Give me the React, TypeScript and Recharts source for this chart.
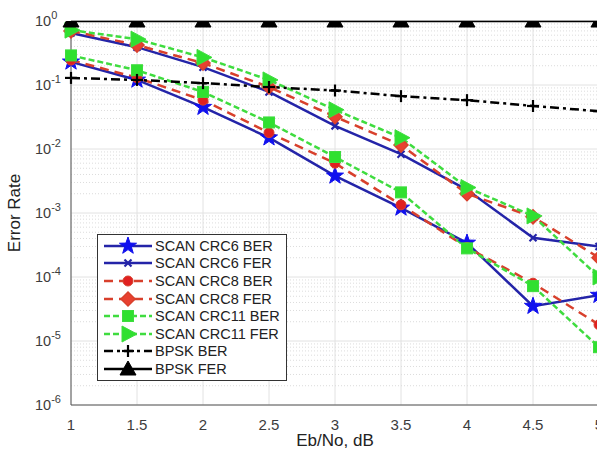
import React from "react";
import { LineChart, Line, XAxis, YAxis, CartesianGrid, ReferenceLine } from "recharts";

const ebno = [1, 1.5, 2, 2.5, 3, 3.5, 4, 4.5, 5];
const crc6Ber = [0.23, 0.12, 0.045, 0.015, 0.0038, 0.0012, 0.00034, 0.000035, 0.000052];
const crc6Fer = [0.65, 0.39, 0.19, 0.078, 0.023, 0.0083, 0.0023, 0.00041, 0.0003];
const crc8Ber = [0.245, 0.13, 0.058, 0.018, 0.006, 0.00134, 0.00029, 0.00008, 0.000018];
const crc8Fer = [0.7, 0.42, 0.22, 0.093, 0.032, 0.0115, 0.002, 0.00087, 0.0002];
const crc11Ber = [0.29, 0.17, 0.078, 0.026, 0.0075, 0.0021, 0.00028, 0.000072, 0.000008];
const crc11Fer = [0.72, 0.52, 0.27, 0.12, 0.041, 0.015, 0.0025, 0.0009, 0.0001];
const bpskBer = [0.129, 0.12, 0.107, 0.093, 0.082, 0.067, 0.058, 0.047, 0.039];
const bpskFer = [1, 1, 1, 1, 1, 1, 1, 1, 1];

const xTicks = [1, 1.5, 2, 2.5, 3, 3.5, 4, 4.5, 5];
const yTicks = [1e-6, 1e-5, 1e-4, 1e-3, 1e-2, 1e-1, 1];

const minorGrid: number[] = [];
for (let e = -6; e < 0; e++) {
  for (let m = 2; m <= 9; m++) minorGrid.push(m * Math.pow(10, e));
}

const data = ebno.map((x, i) => ({
  x,
  crc6Ber: crc6Ber[i],
  crc6Fer: crc6Fer[i],
  crc8Ber: crc8Ber[i],
  crc8Fer: crc8Fer[i],
  crc11Ber: crc11Ber[i],
  crc11Fer: crc11Fer[i],
  bpskBer: bpskBer[i],
  bpskFer: bpskFer[i],
}));

const BLUE = "#2424a8";
const RED = "#d8402c";
const GREEN = "#3fdc3f";
const FONT = "'Liberation Sans', Arial, sans-serif";

const series = [
  { key: "crc6Ber", name: "SCAN CRC6 BER", color: BLUE, dash: undefined, marker: "star" },
  { key: "crc6Fer", name: "SCAN CRC6 FER", color: BLUE, dash: undefined, marker: "x" },
  { key: "crc8Ber", name: "SCAN CRC8 BER", color: RED, dash: "9 6", marker: "circle" },
  { key: "crc8Fer", name: "SCAN CRC8 FER", color: RED, dash: "9 6", marker: "diamond" },
  { key: "crc11Ber", name: "SCAN CRC11 BER", color: GREEN, dash: "6 3", marker: "square" },
  { key: "crc11Fer", name: "SCAN CRC11 FER", color: GREEN, dash: "6 3", marker: "tright" },
  { key: "bpskBer", name: "BPSK BER", color: "#000", dash: "9 4 3 4", marker: "plus" },
  { key: "bpskFer", name: "BPSK FER", color: "#000", dash: undefined, marker: "tup" },
];

const Marker = ({ kind, cx, cy, color }: { kind: string; cx: number; cy: number; color: string }) => {
  if (kind === "star") {
    const pts: string[] = [];
    for (let i = 0; i < 10; i++) {
      const r = i % 2 === 0 ? 9 : 3.6;
      const a = -Math.PI / 2 + (i * Math.PI) / 5;
      pts.push(`${cx + r * Math.cos(a)},${cy + r * Math.sin(a)}`);
    }
    return <polygon points={pts.join(" ")} fill="#1010ee" stroke="#1010ee" strokeWidth={1} />;
  }
  if (kind === "x") {
    const s = 3.5;
    return (
      <g stroke={color} strokeWidth={2.2}>
        <line x1={cx - s} y1={cy - s} x2={cx + s} y2={cy + s} />
        <line x1={cx - s} y1={cy + s} x2={cx + s} y2={cy - s} />
      </g>
    );
  }
  if (kind === "circle") return <circle cx={cx} cy={cy} r={5} fill="#e02020" stroke={color} strokeWidth={1} />;
  if (kind === "diamond")
    return (
      <polygon
        points={`${cx},${cy - 7} ${cx + 7},${cy} ${cx},${cy + 7} ${cx - 7},${cy}`}
        fill="#e84030"
        stroke={color}
        strokeWidth={1.5}
      />
    );
  if (kind === "square")
    return <rect x={cx - 5.5} y={cy - 5.5} width={11} height={11} fill="#30e030" stroke={color} strokeWidth={1} />;
  if (kind === "tright")
    return (
      <polygon points={`${cx + 9},${cy} ${cx - 6},${cy - 8} ${cx - 6},${cy + 8}`} fill="#30e030" stroke={color} strokeWidth={1} />
    );
  if (kind === "plus") {
    const s = 6;
    return (
      <g stroke="#000" strokeWidth={2.2}>
        <line x1={cx - s} y1={cy} x2={cx + s} y2={cy} />
        <line x1={cx} y1={cy - s} x2={cx} y2={cy + s} />
      </g>
    );
  }
  return <polygon points={`${cx},${cy - 8} ${cx + 8},${cy + 6} ${cx - 8},${cy + 6}`} fill="#000" stroke="#000" strokeWidth={1} />;
};

const YTick = ({ y, payload }: any) => {
  const exp = Math.round(Math.log10(payload.value));
  return (
    <text x={35} y={y + 5} fontSize={14.5} fill="#3c3c3c" fontFamily={FONT}>
      10
      <tspan dy={-7} fontSize={11}>
        {exp}
      </tspan>
    </text>
  );
};

const LegendBox = () => (
  <div
    style={{
      position: "absolute",
      left: 97,
      top: 234,
      border: "1px solid #333",
      background: "#fff",
      width: 188,
      padding: "2px 0",
      fontFamily: FONT,
      fontSize: 14.5,
      color: "#222",
      whiteSpace: "nowrap",
    }}
  >
    {series.map((s) => (
      <div key={s.key} style={{ display: "flex", alignItems: "center", height: 17.6 }}>
        <svg width={53} height={18} style={{ marginLeft: 4, flexShrink: 0 }}>
          <line x1={2} y1={9} x2={50} y2={9} stroke={s.color} strokeWidth={2.5} strokeDasharray={s.dash} />
          <Marker kind={s.marker} cx={26} cy={9} color={s.color} />
        </svg>
        <span>{s.name}</span>
      </div>
    ))}
  </div>
);

export default function App() {
  return (
    <div style={{ position: "absolute", left: 0, top: 0, width: 597, height: 450, overflow: "hidden", background: "#fff" }}>
      <LineChart width={640} height={450} data={data} margin={{ top: 21, right: 41, bottom: 0, left: 0 }}>
        <CartesianGrid stroke="#e2e2e2" horizontal vertical />
        {minorGrid.map((v) => (
          <ReferenceLine key={v} y={v} stroke="#dcdcdc" strokeDasharray="1 2" ifOverflow="hidden" />
        ))}
        <XAxis
          dataKey="x"
          type="number"
          domain={[1, 5]}
          ticks={xTicks}
          height={45}
          stroke="#555"
          tickLine={false}
          tick={{ fontSize: 15, fill: "#3c3c3c", fontFamily: FONT }}
          tickMargin={8}
          label={{ value: "Eb/No, dB", position: "insideBottom", offset: 4, fontSize: 17, fill: "#222", fontFamily: FONT }}
        />
        <YAxis
          scale="log"
          domain={[1e-6, 1]}
          ticks={yTicks}
          allowDataOverflow
          width={71}
          stroke="#555"
          tickLine={false}
          tick={<YTick />}
          label={{
            value: "Error Rate",
            angle: -90,
            position: "insideLeft",
            offset: 14,
            fontSize: 17,
            fill: "#222",
            fontFamily: FONT,
            style: { textAnchor: "middle" },
          }}
        />
        <ReferenceLine y={1} stroke="#555" />
        {series.map((s) => (
          <Line
            key={s.key}
            dataKey={s.key}
            name={s.name}
            stroke={s.color}
            strokeWidth={2.5}
            strokeDasharray={s.dash}
            isAnimationActive={false}
            dot={(p: any) => <Marker key={`${s.key}-${p.index}`} kind={s.marker} cx={p.cx} cy={p.cy} color={s.color} />}
            activeDot={false}
          />
        ))}
      </LineChart>
      <LegendBox />
    </div>
  );
}
